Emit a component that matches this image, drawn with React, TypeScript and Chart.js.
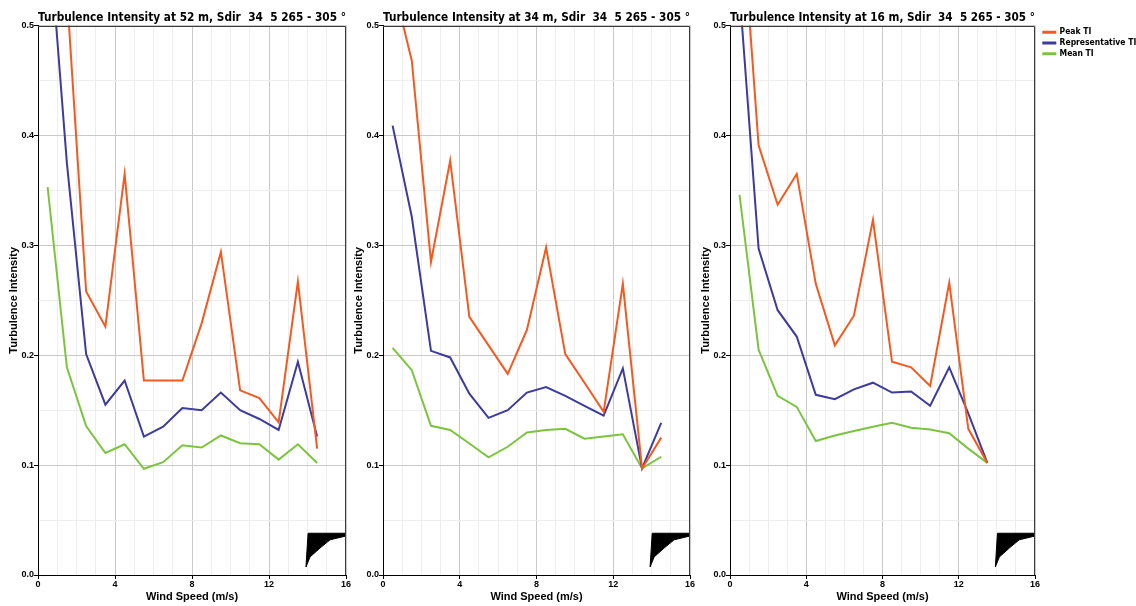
import React, { useEffect, useRef } from 'react';
import { Chart, registerables } from 'chart.js';

Chart.register(...registerables);

// ---- data ----
const windSpeed = [0.5, 1.5, 2.5, 3.5, 4.5, 5.5, 6.5, 7.5, 8.5, 9.5, 10.5, 11.5, 12.5, 13.5, 14.5];

const peak52 = [0.75, 0.53, 0.258, 0.226, 0.365, 0.177, 0.177, 0.177, 0.229, 0.294, 0.168, 0.161, 0.139, 0.267, 0.115];
const rep52 = [0.6, 0.375, 0.201, 0.155, 0.177, 0.126, 0.135, 0.152, 0.15, 0.166, 0.15, 0.142, 0.132, 0.194, 0.126];
const mean52 = [0.353, 0.189, 0.1355, 0.111, 0.119, 0.0967, 0.1027, 0.118, 0.116, 0.127, 0.12, 0.119, 0.105, 0.119, 0.102];

const peak34 = [0.54, 0.468, 0.285, 0.377, 0.235, 0.209, 0.183, 0.223, 0.298, 0.201, 0.175, 0.1485, 0.265, 0.097, 0.125];
const rep34 = [0.409, 0.326, 0.204, 0.198, 0.165, 0.143, 0.15, 0.166, 0.171, 0.163, 0.154, 0.145, 0.188, 0.097, 0.1385];
const mean34 = [0.2067, 0.1864, 0.1358, 0.132, 0.1197, 0.107, 0.1167, 0.1297, 0.132, 0.133, 0.124, 0.126, 0.128, 0.097, 0.1076];

const peak16 = [0.63, 0.391, 0.337, 0.365, 0.265, 0.209, 0.236, 0.3233, 0.194, 0.189, 0.172, 0.266, 0.133, 0.102];
const rep16 = [0.531, 0.297, 0.241, 0.217, 0.164, 0.16, 0.169, 0.175, 0.166, 0.167, 0.154, 0.189, 0.147, 0.102];
const mean16 = [0.346, 0.205, 0.163, 0.153, 0.122, 0.127, 0.131, 0.135, 0.1385, 0.134, 0.1324, 0.129, 0.115, 0.102];

// small black artefact shape in the lower-right of every panel
const glyphX = [14.03, 16.0, 16.0, 15.17, 14.65, 14.13, 13.92, 14.03];
const glyphY = [0.038, 0.038, 0.0355, 0.032, 0.0245, 0.0164, 0.0073, 0.038];

const titles = [
  'Turbulence Intensity at 52 m, Sdir  34  5 265 - 305 °',
  'Turbulence Intensity at 34 m, Sdir  34  5 265 - 305 °',
  'Turbulence Intensity at 16 m, Sdir  34  5 265 - 305 °',
];
const seriesNames = ['Peak TI', 'Representative TI', 'Mean TI'];
const xTickLabels = ['0', '4', '8', '12', '16'];
const yTickLabels = ['0.0', '0.1', '0.2', '0.3', '0.4', '0.5'];

const COLORS = ['#f5591f', '#3d3b9c', '#7cc440'];
const NARROW = "'Liberation Sans Narrow', 'DejaVu Sans Condensed', 'Liberation Sans', sans-serif";
const SANS = "'Liberation Sans', Arial, sans-serif";

type Panel = {
  title: string;
  series: number[][];
  left: number;
  width: number;
  padRight: number;
  legend: boolean;
};

const panels: Panel[] = [
  { title: titles[0], series: [peak52, rep52, mean52], left: 0, width: 352, padRight: 6, legend: false },
  { title: titles[1], series: [peak34, rep34, mean34], left: 345, width: 352, padRight: 7, legend: false },
  { title: titles[2], series: [peak16, rep16, mean16], left: 692, width: 444, padRight: 0, legend: true },
];

const framePlugin = {
  id: 'frame',
  afterDatasetsDraw(chart: any) {
    const { ctx, chartArea } = chart;
    const { left, top, right, bottom } = chartArea;
    ctx.save();
    ctx.strokeStyle = '#3a3a3a';
    ctx.lineWidth = 1;
    ctx.beginPath();
    const t = Math.round(top) + 0.5;
    const r = Math.round(right) - 0.5;
    ctx.moveTo(left, t);
    ctx.lineTo(r, t);
    ctx.lineTo(r, bottom);
    ctx.stroke();
    ctx.restore();
  },
};

const legendPlugin = {
  id: 'legendFix',
  beforeLayout(chart: any) {
    const lg = chart.legend;
    if (lg && !lg.__patched && chart.options.plugins.legend.display) {
      const orig = lg.fit;
      lg.fit = function () {
        orig.call(this);
        this.width = 101;
      };
      lg.__patched = true;
    }
  },
  afterLayout(chart: any) {
    const lg = chart.legend;
    if (lg && chart.options.plugins.legend.display) {
      lg.left += 6;
      lg.right += 6;
    }
  },
};

function isMultiple(v: number, step: number) {
  const q = v / step;
  return Math.abs(q - Math.round(q)) < 1e-6;
}

function PanelChart({ p }: { p: Panel }) {
  const ref = useRef<HTMLCanvasElement | null>(null);
  useEffect(() => {
    if (!ref.current) return;
    const datasets: any[] = p.series.map((vals, i) => ({
      label: seriesNames[i],
      data: vals.map((y, k) => ({ x: windSpeed[k], y })),
      borderColor: COLORS[i],
      backgroundColor: COLORS[i],
      borderWidth: 2,
      pointRadius: 0,
      fill: false,
      tension: 0,
    }));
    datasets.push({
      label: '',
      data: glyphX.map((x, k) => ({ x, y: glyphY[k] })),
      borderColor: '#000000',
      backgroundColor: '#000000',
      borderWidth: 1,
      pointRadius: 0,
      fill: 'shape',
      tension: 0,
    });

    const chart = new Chart(ref.current, {
      type: 'line',
      data: { datasets },
      plugins: [framePlugin, legendPlugin],
      options: {
        responsive: false,
        animation: false,
        events: [],
        layout: { padding: { left: 0, right: p.padRight, top: 0, bottom: 0 } },
        plugins: {
          tooltip: { enabled: false },
          title: {
            display: true,
            text: p.title,
            fullSize: false,
            color: '#000',
            font: { family: NARROW, size: 13, weight: 'bold' },
            padding: { top: 10, bottom: 0 },
          },
          legend: {
            display: p.legend,
            position: 'right',
            align: 'start',
            fullSize: false,
            labels: {
              boxWidth: 12,
              boxHeight: 1,
              padding: 2.3,
              color: '#000',
              font: { family: NARROW, size: 8.5, weight: 'bold' },
              filter: (item: any) => item.text !== '',
            },
          },
        },
        scales: {
          x: {
            type: 'linear',
            min: 0,
            max: 16,
            afterFit: (s: any) => {
              s.height = 31;
            },
            ticks: {
              stepSize: 1,
              autoSkip: false,
              maxRotation: 0,
              padding: 0,
              color: '#000',
              font: { family: SANS, size: 9, weight: 'bold' },
              callback: (v: any) => (isMultiple(Number(v), 4) ? xTickLabels[Math.round(Number(v) / 4)] : ''),
            },
            grid: {
              color: (c: any) => (isMultiple(c.tick.value, 4) ? '#c9c9c9' : '#eeeeee'),
              tickColor: (c: any) => (c.tick && isMultiple(c.tick.value, 4) ? '#000' : 'rgba(0,0,0,0)'),
              tickLength: 4,
              lineWidth: 1,
            },
            border: { display: true, color: '#000', width: 1 },
            title: {
              display: true,
              text: 'Wind Speed (m/s)',
              color: '#000',
              font: { family: SANS, size: 11, weight: 'bold' },
              padding: { top: 0, bottom: 2 },
            },
          },
          y: {
            type: 'linear',
            min: 0,
            max: 0.5,
            afterFit: (s: any) => {
              s.width = 38;
            },
            ticks: {
              stepSize: 0.05,
              autoSkip: false,
              padding: 0,
              color: '#000',
              font: { family: SANS, size: 9, weight: 'bold' },
              callback: (v: any) => (isMultiple(Number(v), 0.1) ? yTickLabels[Math.round(Number(v) * 10)] : ''),
            },
            grid: {
              color: (c: any) => (isMultiple(c.tick.value, 0.1) ? '#c9c9c9' : '#eeeeee'),
              tickColor: (c: any) => (c.tick && isMultiple(c.tick.value, 0.1) ? '#000' : 'rgba(0,0,0,0)'),
              tickLength: 4,
              lineWidth: 1,
            },
            border: { display: true, color: '#000', width: 1 },
            title: {
              display: true,
              text: 'Turbulence Intensity',
              color: '#000',
              font: { family: SANS, size: 11, weight: 'bold' },
              padding: { top: 7, bottom: 0 },
            },
          },
        },
      } as any,
    });
    return () => chart.destroy();
  }, [p]);
  return (
    <canvas
      ref={ref}
      width={p.width}
      height={606}
      style={{ position: 'absolute', left: p.left, top: 0, width: p.width, height: 606 }}
    />
  );
}

export default function App() {
  return (
    <div style={{ position: 'absolute', left: 0, top: 0, width: 1136, height: 606, background: '#fff', overflow: 'hidden' }}>
      {panels.map((p, i) => (
        <PanelChart key={i} p={p} />
      ))}
    </div>
  );
}
